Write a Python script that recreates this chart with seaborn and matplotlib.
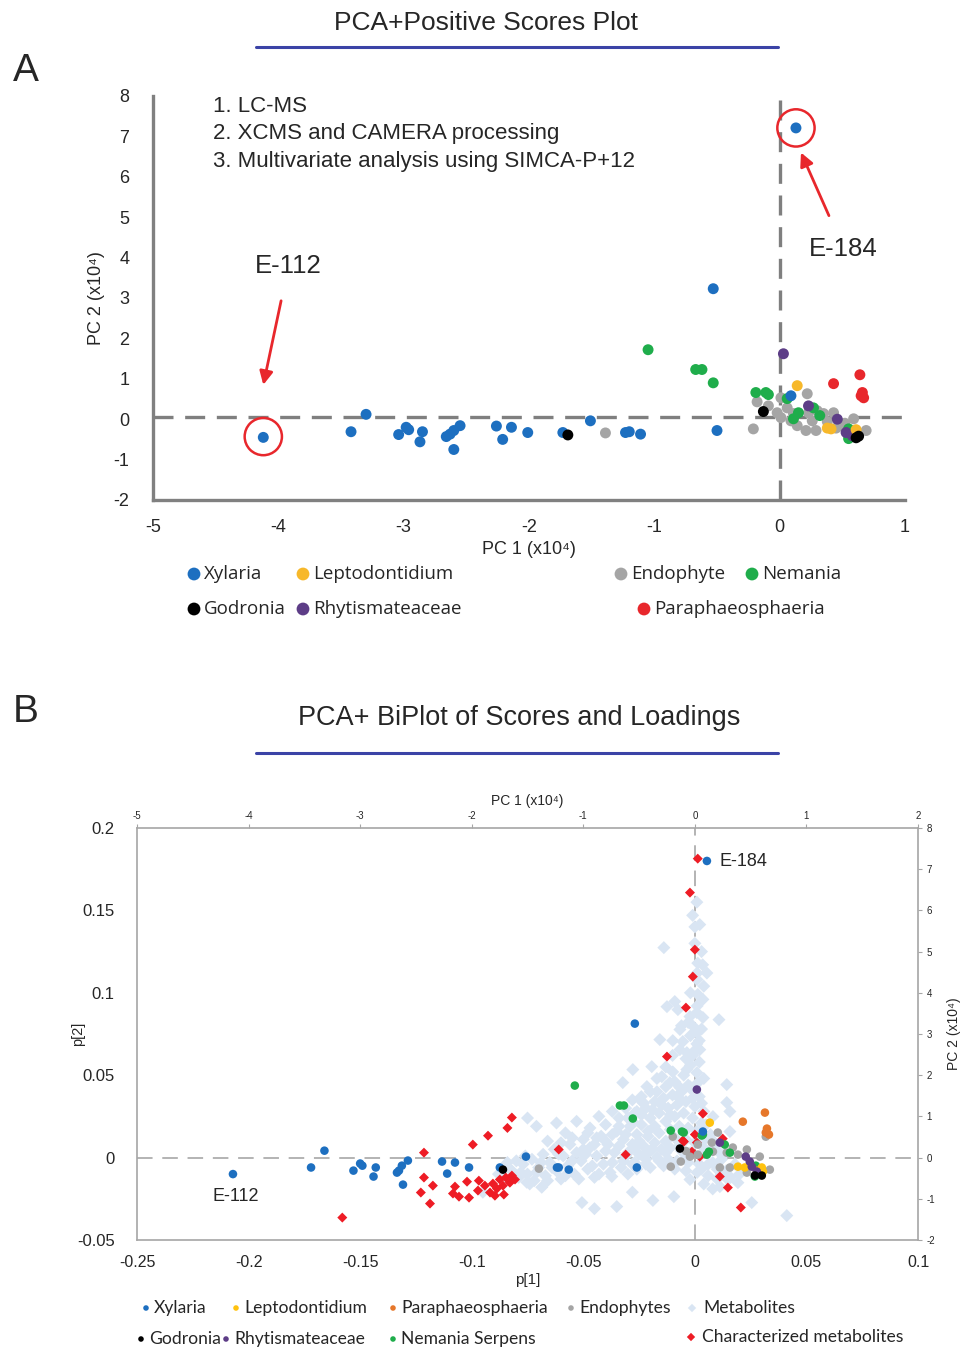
import matplotlib.pyplot as plt
import seaborn as sns
import pandas as pd
from matplotlib.lines import Line2D

# ---------------- panel A: PCA scores (PC1, PC2 in x10^4) ----------------
xyl_a_x = [-4.12, -3.42, -3.30, -3.04, -2.98, -2.96, -2.85, -2.87, -2.66, -2.63, -2.60,
           -2.55, -2.60, -2.26, -2.14, -2.21, -2.01, -1.73, -1.51, -1.23, -1.20, -1.11,
           -0.53, -0.50, 0.09, 0.13]
xyl_a_y = [-0.45, -0.31, 0.12, -0.38, -0.20, -0.26, -0.31, -0.56, -0.43, -0.37, -0.28,
           -0.16, -0.75, -0.17, -0.20, -0.50, -0.33, -0.33, -0.04, -0.33, -0.31, -0.37,
           3.23, -0.28, 0.58, 7.21]
god_a_x = [-1.69, -0.13, 0.61, 0.63]
god_a_y = [-0.39, 0.19, -0.46, -0.42]
endo_a_x = [-1.39, -0.18, -0.21, -0.09, -0.02, 0.01, 0.06, 0.11, 0.14, 0.22, 0.23, 0.26,
            0.30, 0.35, 0.38, 0.43, 0.21, 0.29, 0.59, 0.69, 0.49, 0.01, 0.09, 0.52, 0.45]
endo_a_y = [-0.34, 0.43, -0.24, 0.33, 0.16, 0.04, 0.28, 0.14, -0.16, 0.63, 0.16, -0.04,
            0.21, 0.14, -0.06, 0.16, -0.28, -0.28, 0.01, -0.28, -0.16, 0.53, -0.04, -0.10, -0.22]
nem_a_x = [-1.05, -0.67, -0.62, -0.53, -0.19, -0.11, -0.09, 0.06, 0.15, 0.11, 0.27, 0.32,
           0.55, 0.55]
nem_a_y = [1.72, 1.23, 1.23, 0.90, 0.66, 0.66, 0.61, 0.51, 0.16, 0.01, 0.28, 0.09,
           -0.24, -0.48]
rhy_a_x = [0.03, 0.23, 0.46, 0.53, 0.58]
rhy_a_y = [1.62, 0.33, 0.00, -0.33, -0.41]
lep_a_x = [0.14, 0.41, 0.61, 0.38]
lep_a_y = [0.83, -0.24, -0.26, -0.22]
par_a_x = [0.43, 0.64, 0.66, 0.67, 0.65]
par_a_y = [0.88, 1.10, 0.66, 0.53, 0.58]

# ---------------- panel B: biplot (p[1], p[2]) ----------------
xyl_b_x = [-0.207, -0.166, -0.172, -0.153, -0.150, -0.149, -0.144, -0.143, -0.1335, -0.1326,
           -0.1313, -0.1286, -0.1308, -0.1133, -0.1075, -0.111, -0.1012, -0.0874, -0.0757,
           -0.0618, -0.061, -0.0565, -0.026, -0.0269, 0.0054, 0.0036]
xyl_b_y = [-0.0100, 0.0042, -0.0060, -0.0079, -0.0036, -0.0049, -0.0115, -0.0060, -0.0091,
           -0.0079, -0.0049, -0.0018, -0.0164, -0.0024, -0.0030, -0.0097, -0.0060, -0.0060,
           0.0006, -0.0060, -0.0060, -0.0073, -0.0060, 0.0813, 0.1800, 0.0158]
lep_b_x = [0.0067, 0.0193, 0.0224, 0.0300, 0.0305]
lep_b_y = [0.0212, -0.0055, -0.0060, -0.0060, -0.0085]
par_b_x = [0.0314, 0.0215, 0.0323, 0.0318, 0.0332, 0.0278]
par_b_y = [0.0273, 0.0218, 0.0176, 0.0152, 0.0140, -0.0079]
endo_b_x = [-0.0699, -0.0099, -0.0063, -0.0108, 0.0103, 0.0076, 0.0081, 0.0143, 0.0170,
            0.0193, 0.0233, 0.0291, 0.0336, 0.0318, 0.0013, 0.0013, -0.0022, 0.0157, 0.0112,
            0.0233, -0.0040]
endo_b_y = [-0.0067, 0.0127, -0.0024, -0.0055, 0.0152, 0.0091, 0.0036, 0.0030, 0.0061,
            0.0018, 0.0049, 0.0006, -0.0073, 0.0127, 0.0079, 0.0018, 0.0006, -0.0060, -0.0060,
            -0.0091, 0.0040]
god_b_x = [-0.0860, -0.0067, 0.0300, 0.0269]
god_b_y = [-0.0073, 0.0055, -0.0109, -0.0109]
rhy_b_x = [0.0009, 0.0112, 0.0228, 0.0246, 0.0255, 0.0278]
rhy_b_y = [0.0413, 0.0091, 0.0006, -0.0024, -0.0055, -0.0085]
nem_b_x = [-0.0336, -0.0318, -0.0278, -0.0108, -0.0058, -0.0050, -0.0538, 0.0036, 0.0134,
           0.0063, 0.0054, 0.0157, 0.0273, 0.0269, 0.0031]
nem_b_y = [0.0316, 0.0316, 0.0237, 0.0164, 0.0158, 0.0152, 0.0437, 0.0140, 0.0079,
           0.0036, 0.0018, 0.0030, -0.0049, -0.0115, 0.0134]
chem_x = [0.0013, -0.0022, 0.0000, -0.0009, -0.0040, -0.0125, -0.0820, -0.0840, -0.0610,
          -0.0310, -0.0927, -0.0995, -0.1214, -0.1214, -0.1174, -0.1228, -0.1187, -0.1075,
          -0.1084, -0.1057, -0.1021, -0.1012, -0.0972, -0.0968, -0.0941, -0.0918, -0.0905,
          -0.0887, -0.0874, -0.0860, -0.0847, -0.0829, -0.0820, -0.0806, -0.0856, -0.0896,
          -0.1580, 0.0036, 0.0000, 0.0009, -0.0013, 0.0125, 0.0112, 0.0148, 0.0206, -0.0049,
          -0.0054, 0.0022]
chem_y = [0.1814, 0.1608, 0.1262, 0.1098, 0.0910, 0.0613, 0.0243, 0.0180, 0.0049, 0.0018,
          0.0133, 0.0079, 0.0030, -0.0121, -0.0170, -0.0212, -0.0279, -0.0176, -0.0218,
          -0.0237, -0.0146, -0.0243, -0.0200, -0.0140, -0.0170, -0.0212, -0.0158, -0.0188,
          -0.0133, -0.0170, -0.0121, -0.0152, -0.0109, -0.0133, -0.0224, -0.0231, -0.0364,
          0.0267, 0.0140, 0.0091, 0.0036, 0.0115, -0.0115, -0.0182, -0.0303, 0.0097,
          0.0103, 0.0006]
met_x = [0.0009, 0.0000, 0.0022, -0.0139, 0.0013, 0.0035, 0.0054, 0.0013, 0.0036, -0.0090,
         -0.0125, -0.0076, -0.0022, 0.0009, 0.0036, 0.0108, -0.0067, -0.0030, 0.0009, -0.0157,
         -0.0099, -0.0054, 0.0009, -0.0067, -0.0036, 0.0022, -0.0193, -0.0278, -0.0148, -0.0099,
         -0.0036, 0.0009, -0.0323, -0.0215, -0.0112, -0.0067, -0.0022, 0.0143, -0.0237, 0.0040,
         0.0020, -0.0010, 0.0030, -0.0020, 0.0040, 0.0010,
         -0.022, -0.018, -0.014, -0.010, -0.006, -0.002, 0.002, -0.020, -0.016, -0.012,
         -0.008, -0.004, 0.000, 0.004, -0.024, -0.018, -0.013, -0.009, -0.005, -0.001,
         0.003, -0.026, -0.021, -0.016, -0.011, -0.007, -0.003, 0.001, 0.005, -0.028,
         -0.023, -0.018, -0.013, -0.009, -0.004, 0.000, -0.030, -0.025, -0.020, -0.015,
         -0.011, -0.006, -0.002, 0.003, -0.032, -0.027, -0.022, -0.017, -0.012, -0.008,
         -0.003, 0.002, -0.020, -0.014, -0.009, -0.004, 0.001, 0.006, 0.010, 0.004, 0.008,
         -0.082, -0.079, -0.077, -0.075, -0.073, -0.072, -0.070, -0.068, -0.067, -0.065,
         -0.063, -0.062, -0.060, -0.059, -0.057, -0.056, -0.054, -0.053, -0.051, -0.050,
         -0.048, -0.047, -0.045, -0.044, -0.042, -0.041, -0.039, -0.038, -0.036, -0.035,
         -0.033, -0.032, -0.030, -0.029, -0.027, -0.026, -0.024, -0.023,
         -0.075, -0.071, -0.062, -0.058, -0.053, -0.047, -0.043, -0.040, -0.037, -0.034,
         -0.031, -0.028, -0.066, -0.044,
         -0.0686, -0.0506, -0.0350, -0.0188, -0.0094, -0.0372, -0.0753, -0.0950, -0.0840,
         -0.0880, -0.0450, -0.0280,
         0.0143, 0.0157, 0.0081, 0.0157, 0.0193, 0.0148, 0.0255, 0.0412, -0.0022, 0.0112,
         0.0060, 0.0090, 0.0120, 0.0030,
         -0.085, -0.083, -0.080, -0.078, -0.076, -0.074, -0.071, -0.069, -0.066, -0.064,
         -0.061, -0.058, -0.055, -0.052, -0.049, -0.046, -0.043, -0.040, -0.037, -0.034,
         -0.031, -0.028, -0.025, -0.022, -0.019, -0.016, -0.013, -0.010, -0.007, -0.004,
         -0.040, -0.037, -0.034, -0.031, -0.028, -0.026, -0.023, -0.021, -0.019, -0.017,
         -0.015, -0.013, -0.011, -0.009, -0.007, -0.005, -0.003, -0.001, 0.001, 0.003,
         -0.002, 0.000, -0.004, 0.002, -0.001, 0.001, -0.002, 0.000, 0.003, -0.001,
         0.001, -0.006, -0.010, -0.013, -0.017, -0.020, -0.024, -0.027, -0.030, -0.045,
         -0.050, -0.055, -0.060, -0.048,
         0.004, 0.006, 0.008, 0.010, 0.012, 0.014, 0.016, 0.002, 0.005, 0.007,
         0.009, 0.011, 0.013, 0.018, 0.020]
met_y = [0.1550, 0.1400, 0.1414, 0.1274, 0.1180, 0.1170, 0.1120, 0.0990, 0.0960, 0.0947,
         0.0916, 0.0898, 0.0856, 0.0880, 0.0850, 0.0837, 0.0777, 0.0820, 0.0758, 0.0716,
         0.0710, 0.0704, 0.0690, 0.0655, 0.0637, 0.0655, 0.0552, 0.0534, 0.0491, 0.0520,
         0.0534, 0.0515, 0.0455, 0.0431, 0.0455, 0.0425, 0.0431, 0.0443, 0.0340, 0.0480,
         0.0580, 0.0620, 0.0780, 0.0740, 0.1040, 0.1080,
         0.030, 0.034, 0.036, 0.038, 0.040, 0.042, 0.037, 0.024, 0.027, 0.030,
         0.032, 0.034, 0.031, 0.028, 0.020, 0.019, 0.022, 0.025, 0.027, 0.024,
         0.021, 0.014, 0.013, 0.015, 0.017, 0.019, 0.018, 0.016, 0.012, 0.008,
         0.007, 0.009, 0.010, 0.012, 0.011, 0.009, 0.003, 0.002, 0.004, 0.005,
         0.006, 0.004, 0.003, 0.002, -0.002, -0.003, -0.001, 0.000, -0.001, -0.002,
         -0.003, -0.004, -0.006, -0.005, -0.007, -0.008, -0.009, -0.011, -0.013, -0.016, -0.019,
         -0.008, -0.012, -0.004, -0.010, -0.001, -0.014, -0.006, 0.002, -0.011, -0.003,
         0.005, -0.008, -0.013, 0.001, -0.005, 0.008, -0.010, 0.003, -0.002, 0.011,
         -0.007, 0.006, -0.012, 0.001, 0.013, -0.004, 0.008, -0.009, 0.003, 0.016,
         -0.006, 0.011, -0.010, 0.019, 0.006, -0.007, 0.026, 0.001,
         0.024, 0.019, 0.021, 0.015, 0.022, 0.018, 0.025, 0.020, 0.028, 0.024,
         0.030, 0.035, 0.010, 0.012,
         -0.0180, -0.0273, -0.0297, -0.0260, -0.0237, -0.0115, -0.0150, -0.0210, -0.0030,
         -0.0100, -0.0310, -0.0210,
         0.0334, 0.0280, 0.0249, 0.0158, -0.0152, -0.0133, -0.0273, -0.0352, -0.0133, -0.0176,
         -0.0040, 0.0060, -0.0010, -0.0070,
         -0.006, -0.014, -0.002, -0.009, 0.001, -0.016, -0.009, -0.003, -0.014, -0.006,
         0.002, -0.011, -0.002, -0.013, 0.002, -0.005, -0.010, 0.004, -0.003, 0.007,
         0.001, -0.004, 0.010, -0.004, 0.005, -0.002, 0.003, -0.004, 0.007, 0.000,
         0.010, 0.014, 0.019, 0.014, 0.022, 0.028, 0.033, 0.016, 0.029, 0.040,
         0.032, 0.043, 0.026, 0.046, 0.036, 0.050, 0.044, 0.036, 0.045, 0.033,
         0.056, 0.065, 0.060, 0.071, 0.080, 0.092, 0.100, 0.130, 0.125, 0.147,
         0.112, 0.080, 0.062, 0.055, 0.048, 0.040, 0.037, 0.027, 0.024, 0.008,
         0.005, 0.012, 0.009, 0.015,
         0.006, 0.003, -0.003, -0.007, -0.010, -0.008, -0.012, 0.010, 0.020, 0.014,
         0.009, 0.003, 0.002, -0.004, -0.010]

COL = {
    "Xylaria": "#1d6fc0",
    "Leptodontidium": "#f7b82a",
    "Paraphaeosphaeria": "#e8272c",
    "Endophyte": "#a5a5a5",
    "Nemania": "#1fad4b",
    "Godronia": "#000000",
    "Rhytismateaceae": "#5d3d87",
    "Orange": "#e6772a",
    "Yellow": "#ffc20e",
    "Metabolites": "#d9e5f3",
    "Characterized": "#ee1c25",
}


def frame(parts):
    rows = []
    for name, xs, ys in parts:
        rows.append(pd.DataFrame({"x": xs, "y": ys, "group": name}))
    return pd.concat(rows, ignore_index=True)


W, H = 961, 1347


def fx(px):
    return px / W


def fy(py):
    return 1 - py / H


sns.set_style("white")
plt.rcParams["font.family"] = ["Liberation Sans", "DejaVu Sans"]
plt.rcParams["axes.unicode_minus"] = False

fig = plt.figure(figsize=(W / 100, H / 100), dpi=100)

# ================= Panel A =================
ax_a = fig.add_axes([fx(153), fy(500), fx(905) - fx(153), fy(96) - fy(500)])
df_a = frame([
    ("Endophyte", endo_a_x, endo_a_y),
    ("Nemania", nem_a_x, nem_a_y),
    ("Rhytismateaceae", rhy_a_x, rhy_a_y),
    ("Leptodontidium", lep_a_x, lep_a_y),
    ("Paraphaeosphaeria", par_a_x, par_a_y),
    ("Xylaria", xyl_a_x, xyl_a_y),
    ("Godronia", god_a_x, god_a_y),
])
ax_a.axhline(0.05, color="#7f7f7f", lw=2.4, dashes=(6, 3.5), zorder=1)
ax_a.axvline(0, color="#7f7f7f", lw=2.4, dashes=(6, 3.5), zorder=1)
sns.scatterplot(data=df_a, x="x", y="y", hue="group", palette=COL, s=62,
                edgecolor="none", legend=False, ax=ax_a, zorder=3)
ax_a.set_xlim(-5, 1)
ax_a.set_ylim(-2, 8)
ax_a.set_xticks(range(-5, 2))
ax_a.set_yticks(range(-2, 9))
ax_a.tick_params(axis="y", length=0, labelsize=13, pad=17)
ax_a.tick_params(axis="x", length=0, labelsize=13, pad=14)
for s in ["top", "right"]:
    ax_a.spines[s].set_visible(False)
for s in ["left", "bottom"]:
    ax_a.spines[s].set_color("#808080")
    ax_a.spines[s].set_linewidth(2.4)
ax_a.set_xlabel("PC 1 (x10⁴)", fontsize=13, labelpad=3)
ax_a.set_ylabel("PC 2 (x10⁴)", fontsize=13, labelpad=6)

# highlighted samples
ax_a.scatter([xyl_a_x[0], xyl_a_x[-1]], [xyl_a_y[0] + 0.02, xyl_a_y[-1]], s=720,
             facecolor="none", edgecolor="#e8272c", lw=1.8, zorder=4)
ax_a.annotate("E-112", xy=(-4.12, 0.85), xytext=(-3.92, 3.78), fontsize=18.5,
              ha="center", va="center",
              arrowprops=dict(arrowstyle="-|>", color="#e8272c", lw=2,
                              mutation_scale=20, shrinkA=14, shrinkB=0))
ax_a.annotate("E-184", xy=(0.17, 6.6), xytext=(0.51, 4.22), fontsize=18.5,
              ha="center", va="center",
              arrowprops=dict(arrowstyle="-|>", color="#e8272c", lw=2,
                              mutation_scale=20, shrinkA=14, shrinkB=0))

steps = ["1. LC-MS", "2. XCMS and CAMERA processing",
         "3. Multivariate analysis using SIMCA-P+12"]
for i, t in enumerate(steps):
    fig.text(fx(213), fy(106 + 27.5 * i), t, fontsize=16, va="center", ha="left")

fig.text(fx(486), fy(23), "PCA+Positive Scores Plot", fontsize=19, ha="center", va="center")
fig.add_artist(Line2D([fx(256), fx(778)], [fy(47), fy(47)], color="#3b43a6", lw=2.2))
fig.text(fx(26), fy(71), "A", fontsize=28, ha="center", va="center")

# ================= Panel B =================
ax_b = fig.add_axes([fx(137), fy(1240), fx(918) - fx(137), fy(828) - fy(1240)])
ax_b.axhline(0, color="#b3b3b3", lw=1.4, dashes=(8, 5), zorder=1)
ax_b.axvline(0, color="#b3b3b3", lw=1.4, dashes=(8, 5), zorder=1)
df_met = pd.DataFrame({"x": met_x, "y": met_y})
sns.scatterplot(data=df_met, x="x", y="y", color=COL["Metabolites"], marker="D", s=44,
                edgecolor="none", ax=ax_b, zorder=2)
df_chem = pd.DataFrame({"x": chem_x, "y": chem_y})
sns.scatterplot(data=df_chem, x="x", y="y", color=COL["Characterized"], marker="D", s=26,
                edgecolor="none", ax=ax_b, zorder=3)
df_b = frame([
    ("Endophyte", endo_b_x, endo_b_y),
    ("Nemania", nem_b_x, nem_b_y),
    ("Orange", par_b_x, par_b_y),
    ("Yellow", lep_b_x, lep_b_y),
    ("Rhytismateaceae", rhy_b_x, rhy_b_y),
    ("Xylaria", xyl_b_x, xyl_b_y),
    ("Godronia", god_b_x, god_b_y),
])
sns.scatterplot(data=df_b, x="x", y="y", hue="group", palette=COL, s=38,
                edgecolor="none", legend=False, ax=ax_b, zorder=4)
ax_b.set_xlim(-0.25, 0.1)
ax_b.set_ylim(-0.05, 0.2)
ax_b.set_xticks([-0.25, -0.2, -0.15, -0.1, -0.05, 0, 0.05, 0.1])
ax_b.set_xticklabels(["-0.25", "-0.2", "-0.15", "-0.1", "-0.05", "0", "0.05", "0.1"])
ax_b.set_yticks([-0.05, 0, 0.05, 0.1, 0.15, 0.2])
ax_b.set_yticklabels(["-0.05", "0", "0.05", "0.1", "0.15", "0.2"])
ax_b.tick_params(axis="y", length=0, labelsize=12, pad=16)
ax_b.tick_params(axis="x", length=0, labelsize=11.5, pad=11)
for s in ax_b.spines.values():
    s.set_color("#a6a6a6")
    s.set_linewidth(1.2)
ax_b.set_xlabel("p[1]", fontsize=11, labelpad=2)
ax_b.set_ylabel("p[2]", fontsize=10.5)
ax_b.yaxis.set_label_coords(-0.066, 0.5)

top = ax_b.secondary_xaxis("top", functions=(lambda v: v * 20, lambda v: v / 20))
top.set_xticks(range(-5, 3))
top.tick_params(labelsize=7, length=3, color="#a6a6a6", pad=2)
top.set_xlabel("PC 1 (x10⁴)", fontsize=10, labelpad=4)
top.spines["top"].set_visible(False)
right = ax_b.secondary_yaxis("right", functions=(lambda v: v * 40, lambda v: v / 40))
right.set_yticks(range(-2, 9))
right.tick_params(labelsize=7, length=3, color="#a6a6a6", pad=3)
right.set_ylabel("PC 2 (x10⁴)", fontsize=10, labelpad=9)
right.spines["right"].set_visible(False)

ax_b.text(0.0112, 0.1796, "E-184", fontsize=13, ha="left", va="center")
ax_b.text(-0.2056, -0.0237, "E-112", fontsize=13, ha="center", va="center")

fig.text(fx(519), fy(718), "PCA+ BiPlot of Scores and Loadings", fontsize=19.5,
         ha="center", va="center")
fig.add_artist(Line2D([fx(256), fx(778)], [fy(753), fy(753)], color="#3b43a6", lw=2.2))
fig.text(fx(26), fy(712), "B", fontsize=28, ha="center", va="center")

# ================= Legends (drawn manually) =================
lax = fig.add_axes([0, 0, 1, 1])
lax.set_xlim(0, W)
lax.set_ylim(H, 0)
lax.axis("off")

leg_a = [
    ("Xylaria", 194, 574, COL["Xylaria"]),
    ("Leptodontidium", 303, 574, COL["Leptodontidium"]),
    ("Endophyte", 621, 574, COL["Endophyte"]),
    ("Nemania", 752, 574, COL["Nemania"]),
    ("Godronia", 194, 609, COL["Godronia"]),
    ("Rhytismateaceae", 303, 609, COL["Rhytismateaceae"]),
    ("Paraphaeosphaeria", 644, 609, COL["Paraphaeosphaeria"]),
]
for name, px, py, c in leg_a:
    lax.scatter(px, py, s=85, color=c, edgecolor="none")
    lax.text(px + 10, py, name, fontsize=13.5, va="center", ha="left",
             family=["Open Sans", "DejaVu Sans"])

leg_b = [
    ("Xylaria", 146, 1308, COL["Xylaria"], "o"),
    ("Leptodontidium", 236, 1308, COL["Yellow"], "o"),
    ("Paraphaeosphaeria", 393, 1308, COL["Orange"], "o"),
    ("Endophytes", 571, 1308, COL["Endophyte"], "o"),
    ("Metabolites", 692, 1308, COL["Metabolites"], "D"),
    ("Godronia", 141, 1339, COL["Godronia"], "o"),
    ("Rhytismateaceae", 226, 1339, COL["Rhytismateaceae"], "o"),
    ("Nemania Serpens", 393, 1339, COL["Nemania"], "o"),
    ("Characterized metabolites", 691, 1337, COL["Characterized"], "D"),
]
for name, px, py, c, m in leg_b:
    lax.scatter(px, py, s=16 if m == "o" else 18, color=c, marker=m, edgecolor="none")
    lax.text(px + 8 if m == "o" else px + 11, py, name, fontsize=12.6, va="center",
             ha="left", family=["Lato", "DejaVu Sans"])

fig.savefig("out.png", dpi=100)
